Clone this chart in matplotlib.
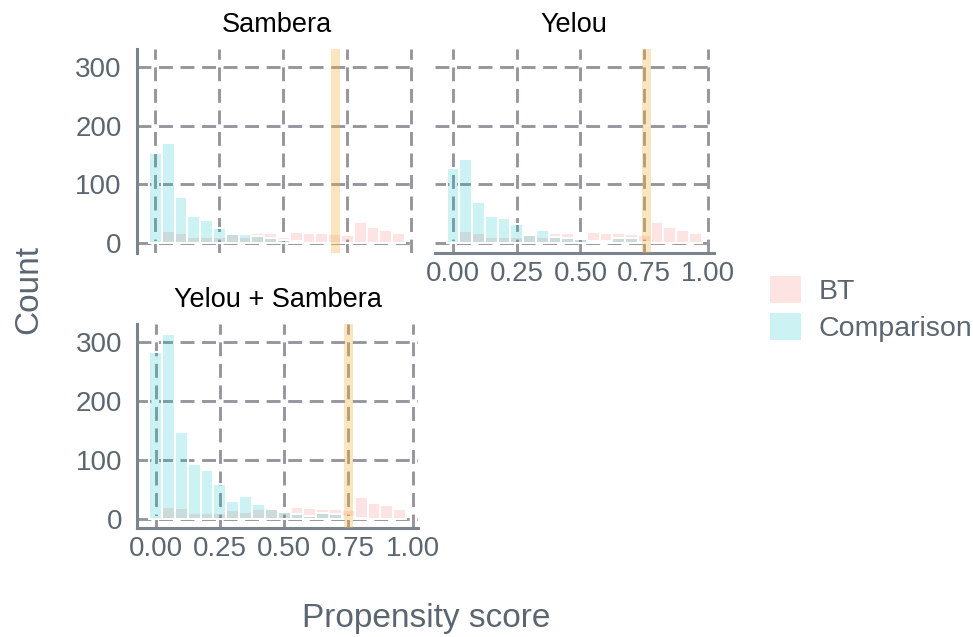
import numpy as np
import matplotlib
matplotlib.use("Agg")
import matplotlib.pyplot as plt
from matplotlib.patches import Patch

plt.rcParams['font.family'] = ['Liberation Sans', 'DejaVu Sans']
plt.rcParams['lines.scale_dashes'] = False

# Histogram bins (width 0.05, centred on 0.00 ... 0.95)
bin_width = 0.05
bin_centers = [round(i * bin_width, 2) for i in range(20)]

# Treated (BT) counts per bin
bt_counts = [2, 20, 18, 10, 10, 10, 15, 11, 17, 18, 11, 19, 18, 17, 16, 14, 36, 27, 23, 17]

# Comparison counts per bin, by panel
comp_sambera = [154, 170, 78, 46, 39, 26, 15, 15, 12, 8, 5, 4, 1, 0, 0, 0, 0, 0, 0, 0]
comp_yelou = [128, 143, 70, 46, 42, 33, 14, 23, 11, 9, 7, 3, 3, 9, 8, 2, 1, 0, 0, 0]
comp_both = [283, 314, 148, 93, 82, 59, 30, 39, 24, 17, 12, 7, 4, 10, 8, 2, 1, 0, 0, 0]

panel_titles = ["Sambera", "Yelou", "Yelou + Sambera"]
cutoffs = [0.70, 0.757, 0.747]

x_ticks = [0.0, 0.25, 0.5, 0.75, 1.0]
x_tick_labels = ["0.00", "0.25", "0.50", "0.75", "1.00"]
y_ticks = [0, 100, 200, 300]

bt_fill = (248/255, 118/255, 109/255, 0.2)
comp_fill = (0/255, 191/255, 196/255, 0.2)
grid_col = "#96969e"
axis_col = "#7b838c"
text_col = "#5b6670"

W, H = 973, 637
fig = plt.figure(figsize=(W/100, H/100), dpi=100)

panel_h = 204 / H
boxes = [
    [137/W, 1 - 252.5/H, 280/W, panel_h],
    [434.6/W, 1 - 252.5/H, 279/W, panel_h],
    [137.2/W, 1 - 528/H, 281/W, panel_h],
]
comps = [comp_sambera, comp_yelou, comp_both]
show_left = [True, False, True]
show_bottom = [False, True, True]

for box, comp, title, cut, sl, sb in zip(boxes, comps, panel_titles, cutoffs, show_left, show_bottom):
    ax = fig.add_axes(box)
    ax.set_xlim(-0.072, 1.022)
    ax.set_ylim(-16, 331)
    ax.set_axisbelow(True)
    ax.grid(True, color=grid_col, linewidth=2.1, linestyle=(0, (10.0, 5.5)))
    ax.bar(bin_centers, bt_counts, width=bin_width, facecolor=bt_fill,
           edgecolor="white", linewidth=1.4, zorder=2)
    ax.bar(bin_centers, comp, width=bin_width, facecolor=comp_fill,
           edgecolor="white", linewidth=1.4, zorder=3)
    ax.axvline(cut, color="#f5b13a", alpha=0.33, linewidth=6.5, zorder=4)

    for side in ["top", "right", "left", "bottom"]:
        ax.spines[side].set_visible(False)
    if sl:
        ax.spines["left"].set_visible(True)
        ax.spines["left"].set_color(axis_col)
        ax.spines["left"].set_linewidth(2.2)
    if sb:
        ax.spines["bottom"].set_visible(True)
        ax.spines["bottom"].set_color(axis_col)
        ax.spines["bottom"].set_linewidth(2.2)

    ax.set_xticks(x_ticks)
    ax.set_yticks(y_ticks)
    ax.tick_params(axis="both", length=0, labelsize=20, labelcolor=text_col)
    ax.tick_params(axis="y", pad=11)
    ax.tick_params(axis="x", pad=6)
    if sb:
        ax.set_xticklabels(x_tick_labels)
    else:
        ax.set_xticklabels([])
    if not sl:
        ax.set_yticklabels([])
    ax.set_title(title, fontsize=19.5, color="black", pad=12)

fig.text(29/W, 1 - 290/H, "Count", rotation=90, fontsize=24, color=text_col,
         ha="center", va="center")
fig.text(426/W, 1 - 619/H, "Propensity score", fontsize=24, color=text_col,
         ha="center", va="center")

handles = [Patch(facecolor=bt_fill, edgecolor="none", label="BT"),
           Patch(facecolor=comp_fill, edgecolor="none", label="Comparison")]
fig.legend(handles=handles, loc="center left", bbox_to_anchor=(770/W, 1 - 309/H),
           frameon=False, fontsize=20.5, labelcolor=text_col,
           handlelength=1.1, handleheight=1.1, handletextpad=0.6,
           labelspacing=0.25, borderaxespad=0, borderpad=0)

fig.savefig("out.png", dpi=100)
